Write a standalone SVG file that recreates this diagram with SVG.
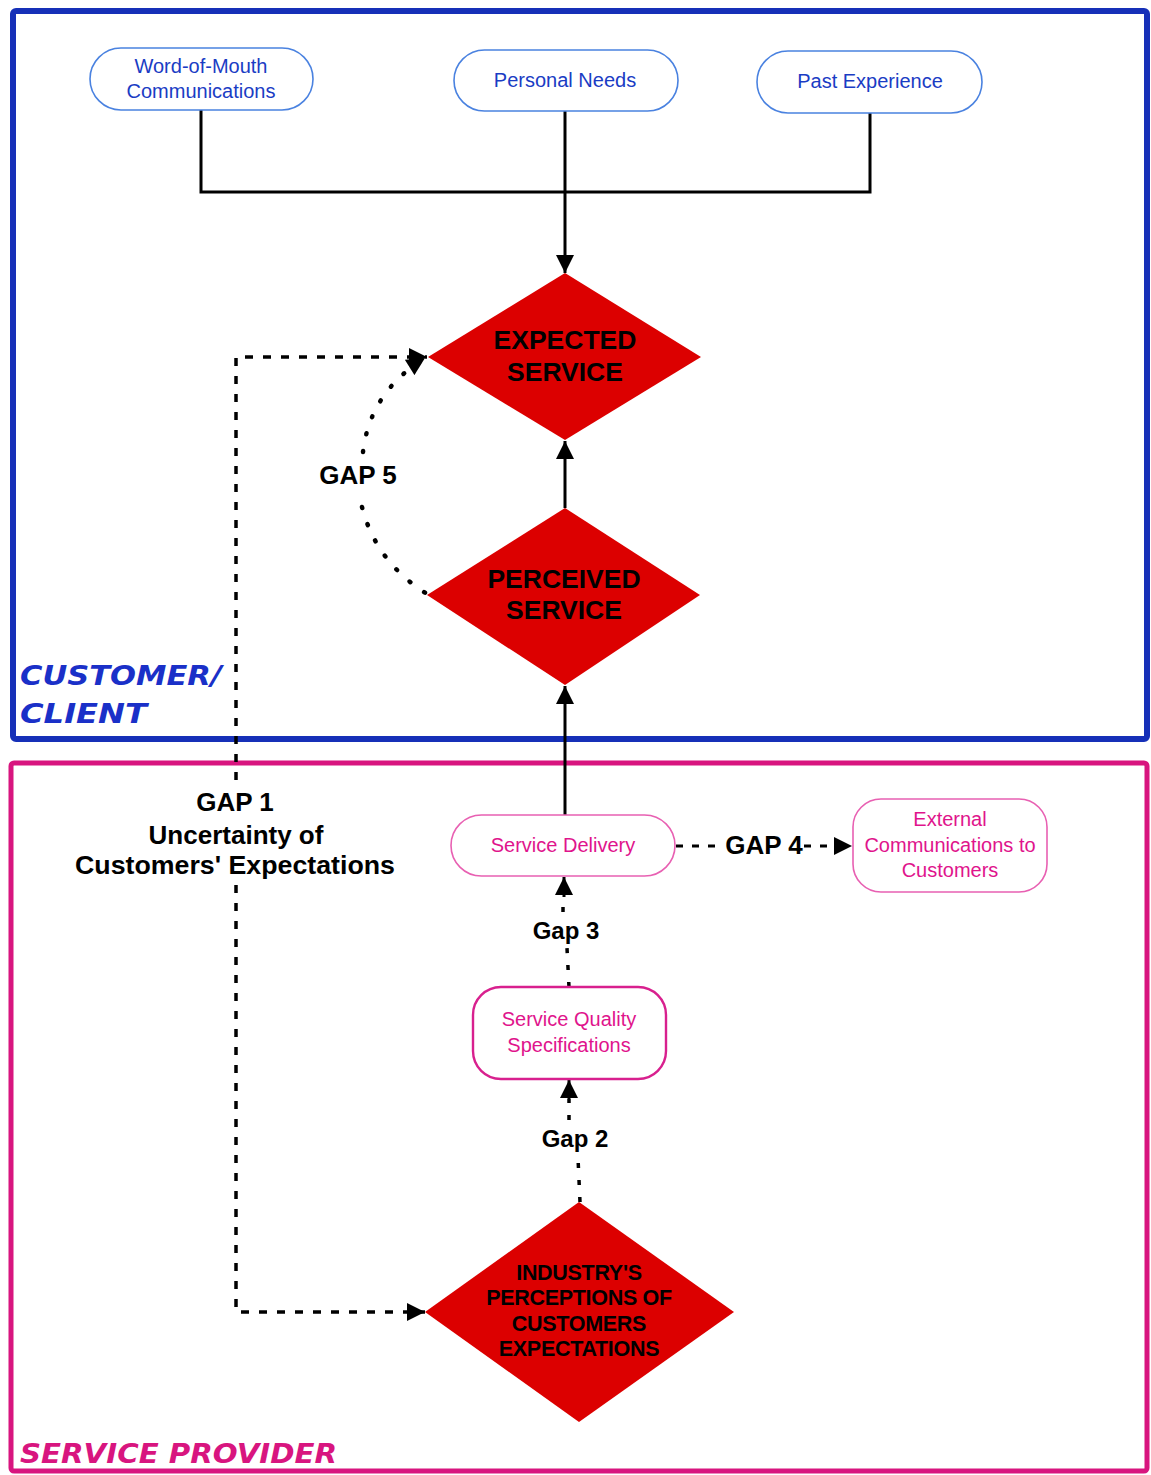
<svg xmlns="http://www.w3.org/2000/svg" width="1151" height="1475" viewBox="0 0 1151 1475">
  <defs>
    <marker id="arrow" viewBox="0 0 10 10" refX="10" refY="5" markerUnits="userSpaceOnUse" markerWidth="19" markerHeight="18" orient="auto">
      <path d="M0,0 L10,5 L0,10 z" fill="#000"/>
    </marker>
  </defs>
  <style>
    .frame-blue { fill: none; stroke: #1630b8; stroke-width: 6; }
    .frame-pink { fill: none; stroke: #d8157f; stroke-width: 5; }
    .pill-blue { fill: #fff; stroke: #4a82e0; stroke-width: 1.6; }
    .pill-pink { fill: #fff; stroke: #e860b2; stroke-width: 1.6; }
    .pill-pink-strong { fill: #fff; stroke: #d8208e; stroke-width: 2.4; }
    .diamond { fill: #dc0000; stroke: none; }
    .t-blue { font-family: "Liberation Sans", Arial, sans-serif; font-size: 20px; fill: #1a3cc4; text-anchor: middle; }
    .t-pink { font-family: "Liberation Sans", Arial, sans-serif; font-size: 20px; fill: #e0148c; text-anchor: middle; }
    .t-dia { font-family: "Liberation Sans", Arial, sans-serif; font-weight: bold; font-size: 26.5px; fill: #000; text-anchor: middle; }
    .t-dia-small { font-family: "Liberation Sans", Arial, sans-serif; font-weight: bold; font-size: 21.5px; fill: #000; text-anchor: middle; letter-spacing: -0.3px; }
    .t-gap { font-family: "Liberation Sans", Arial, sans-serif; font-weight: bold; font-size: 26px; fill: #000; text-anchor: middle; }
    .t-gap-small { font-family: "Liberation Sans", Arial, sans-serif; font-weight: bold; font-size: 24px; fill: #000; text-anchor: middle; }
    .t-zone { font-family: "DejaVu Sans", sans-serif; font-weight: bold; font-style: italic; font-size: 26px; }
    .solid { fill: none; stroke: #000; stroke-width: 3; }
    .dashed { fill: none; stroke: #000; stroke-width: 3.5; stroke-dasharray: 8 10; }
    .dotted { fill: none; stroke: #000; stroke-width: 4.5; stroke-linecap: round; stroke-dasharray: 1 17; }
    .ticks { fill: none; stroke: #000; stroke-width: 3.5; stroke-dasharray: 5 12; }
    .gap4 { fill: none; stroke: #000; stroke-width: 3; stroke-dasharray: 7 9; }
  </style>

  <!-- zone frames -->
  <g id="zone-customer">
    <rect class="frame-blue" x="13" y="11" width="1134" height="728" rx="3"/>
    <text class="t-zone" fill="#1a30c8" x="20" y="685" textLength="202" lengthAdjust="spacingAndGlyphs">CUSTOMER/</text>
    <text class="t-zone" fill="#1a30c8" x="20" y="723" textLength="127" lengthAdjust="spacingAndGlyphs">CLIENT</text>
  </g>
  <g id="zone-provider">
    <rect class="frame-pink" x="11" y="763" width="1136" height="708" rx="3"/>
    <text class="t-zone" fill="#d8157f" x="20" y="1463" font-size="27" textLength="317" lengthAdjust="spacingAndGlyphs">SERVICE PROVIDER</text>
  </g>

  <!-- connectors -->
  <g id="connectors">
    <path class="solid" d="M201 110 V192 H870 V113"/>
    <path class="solid" d="M565 111 V273" marker-end="url(#arrow)"/>
    <path class="solid" d="M565 508 V441" marker-end="url(#arrow)"/>
    <path class="solid" d="M565 815 V686" marker-end="url(#arrow)"/>
    <!-- gap 1 -->
    <path class="dashed" d="M236 780 V357 H427" marker-end="url(#arrow)"/>
    <path class="dashed" d="M236 885 V1312 H425" marker-end="url(#arrow)"/>
    <!-- gap 5 -->
    <path class="dotted" d="M363 452 Q370 392 425 358" marker-end="url(#arrow)"/>
    <path class="dotted" d="M362 507 Q376 562 427 594"/>
    <!-- gap 4 -->
    <path class="gap4" d="M676 846 H722"/>
    <path class="gap4" d="M804 846 H852" marker-end="url(#arrow)"/>
    <!-- gap 3 -->
    <path class="ticks" d="M563 912 V897"/>
    <path class="ticks" d="M569 987 L567 948"/>
    <path class="solid" d="M564 897 V877" marker-end="url(#arrow)" stroke-width="1"/>
    <!-- gap 2 -->
    <path class="ticks" d="M580 1202 L578 1158"/>
    <path class="ticks" d="M569 1120 V1099"/>
    <path class="solid" d="M569 1099 V1080" marker-end="url(#arrow)" stroke-width="1"/>

    <text class="t-gap" x="358" y="484">GAP 5</text>
    <text class="t-gap" x="235" y="811" font-size="25">GAP 1</text>
    <text class="t-gap" x="236" y="844" font-size="27">Uncertainty of</text>
    <text class="t-gap" x="235" y="874" font-size="27" textLength="320" lengthAdjust="spacingAndGlyphs">Customers' Expectations</text>
    <text class="t-gap" x="764" y="854" font-size="24.5">GAP 4</text>
    <text class="t-gap-small" x="566" y="939">Gap 3</text>
    <text class="t-gap-small" x="575" y="1147">Gap 2</text>
  </g>

  <!-- customer-side influences -->
  <g id="word-of-mouth">
    <rect class="pill-blue" x="90" y="48" width="223" height="62" rx="31"/>
    <text class="t-blue" x="201" y="73">Word-of-Mouth</text>
    <text class="t-blue" x="201" y="98">Communications</text>
  </g>
  <g id="personal-needs">
    <rect class="pill-blue" x="454" y="50" width="224" height="61" rx="30.5"/>
    <text class="t-blue" x="565" y="87">Personal Needs</text>
  </g>
  <g id="past-experience">
    <rect class="pill-blue" x="757" y="51" width="225" height="62" rx="31"/>
    <text class="t-blue" x="870" y="88">Past Experience</text>
  </g>

  <g id="expected-service">
    <polygon class="diamond" points="565,273 701,357 565,440 428,357"/>
    <text class="t-dia" x="565" y="349">EXPECTED</text>
    <text class="t-dia" x="565" y="381">SERVICE</text>
  </g>
  <g id="perceived-service">
    <polygon class="diamond" points="565,508 700,595 565,685 427,595"/>
    <text class="t-dia" x="564" y="588">PERCEIVED</text>
    <text class="t-dia" x="564" y="619">SERVICE</text>
  </g>

  <!-- provider side -->
  <g id="service-delivery">
    <rect class="pill-pink" x="451" y="815" width="224" height="61" rx="30.5"/>
    <text class="t-pink" x="563" y="852">Service Delivery</text>
  </g>
  <g id="external-communications">
    <rect class="pill-pink" x="853" y="799" width="194" height="93" rx="28"/>
    <text class="t-pink" x="950" y="826">External</text>
    <text class="t-pink" x="950" y="852">Communications to</text>
    <text class="t-pink" x="950" y="877">Customers</text>
  </g>
  <g id="service-quality-specs">
    <rect class="pill-pink-strong" x="473" y="987" width="193" height="92" rx="28"/>
    <text class="t-pink" x="569" y="1026">Service Quality</text>
    <text class="t-pink" x="569" y="1052">Specifications</text>
  </g>
  <g id="industry-perceptions">
    <polygon class="diamond" points="579,1202 734,1312 579,1422 425,1312"/>
    <text class="t-dia-small" x="579" y="1280">INDUSTRY'S</text>
    <text class="t-dia-small" x="579" y="1305">PERCEPTIONS OF</text>
    <text class="t-dia-small" x="579" y="1331">CUSTOMERS</text>
    <text class="t-dia-small" x="579" y="1356">EXPECTATIONS</text>
  </g>
</svg>
